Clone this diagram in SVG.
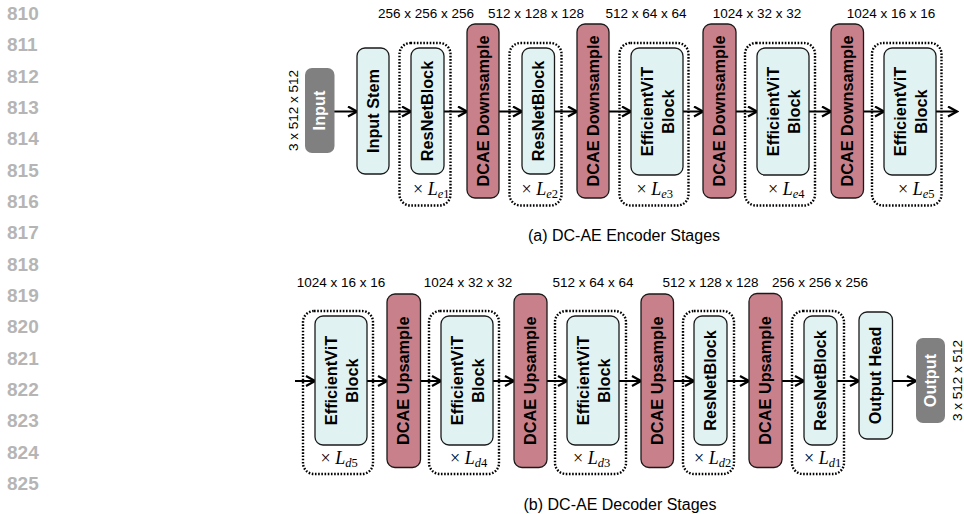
<svg xmlns="http://www.w3.org/2000/svg" width="964" height="514" viewBox="0 0 964 514">
<defs>
<marker id="ah" viewBox="0 0 12 12" refX="10.5" refY="6" markerWidth="12" markerHeight="12" markerUnits="userSpaceOnUse" orient="auto">
<path d="M1.5,1 L10.5,6 L1.5,11" fill="none" stroke="#000" stroke-width="2.2"/>
</marker>
<style>
.ln{font-family:"Liberation Sans",Arial,sans-serif;font-weight:bold;font-size:19px;fill:#b5b5b5}
.dim{font-family:"Liberation Sans",Arial,sans-serif;font-size:13.5px;fill:#000;text-anchor:middle}
.cap{font-family:"Liberation Sans",Arial,sans-serif;font-size:16px;fill:#000;text-anchor:middle}
.blk{fill:#e0f3f2;stroke:#1a1a1a;stroke-width:1.3}
.dc{fill:#c8808a;stroke:#1a1a1a;stroke-width:1.3}
.io{fill:#808080}
.dot{fill:none;stroke:#000;stroke-width:2.4;stroke-dasharray:1.6 1.6}
.bt{font-family:"Liberation Sans",Arial,sans-serif;font-weight:bold;font-size:16.3px;fill:#000;text-anchor:middle}
.wt{font-family:"Liberation Sans",Arial,sans-serif;font-weight:bold;font-size:16.3px;fill:#fff;text-anchor:middle}
.mul{font-family:"Liberation Serif","Times New Roman",serif;font-size:18px;fill:#000}
.it{font-style:italic}
.sb{font-size:12.5px}
.conn line{stroke:#000;stroke-width:2;marker-end:url(#ah)}
</style>
</defs>
<rect width="964" height="514" fill="#fff"/>
<g id="line-numbers">
<text class="ln" x="7" y="20">810</text>
<text class="ln" x="7" y="51.3">811</text>
<text class="ln" x="7" y="82.7">812</text>
<text class="ln" x="7" y="114">813</text>
<text class="ln" x="7" y="145.3">814</text>
<text class="ln" x="7" y="176.7">815</text>
<text class="ln" x="7" y="208">816</text>
<text class="ln" x="7" y="239.3">817</text>
<text class="ln" x="7" y="270.7">818</text>
<text class="ln" x="7" y="302">819</text>
<text class="ln" x="7" y="333.3">820</text>
<text class="ln" x="7" y="364.7">821</text>
<text class="ln" x="7" y="396">822</text>
<text class="ln" x="7" y="427.3">823</text>
<text class="ln" x="7" y="458.7">824</text>
<text class="ln" x="7" y="490">825</text>
</g>
<g id="labels">
<text class="dim" x="426" y="17.5">256 x 256 x 256</text>
<text class="dim" x="536" y="17.5">512 x 128 x 128</text>
<text class="dim" x="646" y="17.5">512 x 64 x 64</text>
<text class="dim" x="757" y="17.5">1024 x 32 x 32</text>
<text class="dim" x="891" y="17.5">1024 x 16 x 16</text>
<text class="dim" transform="translate(293,110.5) rotate(-90)" dy="4.5">3 x 512 x 512</text>
<text class="cap" x="624" y="241">(a) DC-AE Encoder Stages</text>
<text class="dim" x="341" y="287">1024 x 16 x 16</text>
<text class="dim" x="468" y="287">1024 x 32 x 32</text>
<text class="dim" x="593" y="287">512 x 64 x 64</text>
<text class="dim" x="710.5" y="287">512 x 128 x 128</text>
<text class="dim" x="820" y="287">256 x 256 x 256</text>
<text class="dim" transform="translate(957,380.5) rotate(-90)" dy="4.5">3 x 512 x 512</text>
<text class="cap" x="620" y="510">(b) DC-AE Decoder Stages</text>
</g>
<g id="connectors" class="conn">
<line x1="334" y1="111.5" x2="357" y2="111.5"/>
<line x1="389" y1="111.5" x2="411" y2="111.5"/>
<line x1="444" y1="111.5" x2="467" y2="111.5"/>
<line x1="499" y1="111.5" x2="522" y2="111.5"/>
<line x1="554" y1="111.5" x2="577" y2="111.5"/>
<line x1="609" y1="111.5" x2="631" y2="111.5"/>
<line x1="683" y1="111.5" x2="703" y2="111.5"/>
<line x1="736" y1="111.5" x2="757" y2="111.5"/>
<line x1="809" y1="111.5" x2="831" y2="111.5"/>
<line x1="863" y1="111.5" x2="884" y2="111.5"/>
<line x1="936" y1="111.5" x2="957" y2="111.5"/>
<line x1="295" y1="381" x2="315" y2="381"/>
<line x1="367" y1="381" x2="387" y2="381"/>
<line x1="421" y1="381" x2="441" y2="381"/>
<line x1="493" y1="381" x2="514" y2="381"/>
<line x1="547" y1="381" x2="567" y2="381"/>
<line x1="619" y1="381" x2="641" y2="381"/>
<line x1="673" y1="381" x2="694" y2="381"/>
<line x1="727" y1="381" x2="749" y2="381"/>
<line x1="782" y1="381" x2="804" y2="381"/>
<line x1="837" y1="381" x2="859" y2="381"/>
<line x1="893" y1="381" x2="916" y2="381"/>
</g>
<g id="enc-input">
<rect class="io" x="305" y="68" width="29.5" height="85" rx="7"/>
<text class="wt" transform="translate(319.7,110.5) rotate(-90)" dy="5.5">Input</text>
</g>
<g id="enc-stem">
<rect class="blk" x="357" y="48" width="32" height="126" rx="8"/>
<text class="bt" transform="translate(373,111) rotate(-90)" dy="5.5">Input Stem</text>
</g>
<g id="enc-stage1">
<rect class="dot" x="399.5" y="43" width="51" height="162.5" rx="11"/>
<rect class="blk" x="411" y="48" width="33" height="126" rx="8"/>
<text class="bt" transform="translate(427.5,111) rotate(-90)" dy="5.5">ResNetBlock</text>
<text class="mul" x="413" y="195">× <tspan class="it">L</tspan><tspan class="it sb" dy="3">e</tspan><tspan class="sb">1</tspan></text>
</g>
<g id="enc-down1">
<rect class="dc" x="467" y="24" width="32" height="174" rx="8"/>
<text class="bt" transform="translate(483,111) rotate(-90)" dy="5.5">DCAE Downsample</text>
</g>
<g id="enc-stage2">
<rect class="dot" x="509.5" y="43" width="52" height="162.5" rx="11"/>
<rect class="blk" x="522" y="48" width="32.5" height="126" rx="8"/>
<text class="bt" transform="translate(538.2,111) rotate(-90)" dy="5.5">ResNetBlock</text>
<text class="mul" x="521.5" y="195">× <tspan class="it">L</tspan><tspan class="it sb" dy="3">e</tspan><tspan class="sb">2</tspan></text>
</g>
<g id="enc-down2">
<rect class="dc" x="577" y="24" width="32" height="174" rx="8"/>
<text class="bt" transform="translate(593,111) rotate(-90)" dy="5.5">DCAE Downsample</text>
</g>
<g id="enc-stage3">
<rect class="dot" x="619.5" y="43" width="69" height="162.5" rx="11"/>
<rect class="blk" x="631" y="48" width="52" height="127" rx="8"/>
<text class="bt" transform="translate(657,111.5) rotate(-90)"><tspan x="0" dy="-4.5">EfficientViT</tspan><tspan x="0" dy="21.5">Block</tspan></text>
<text class="mul" x="636.5" y="195">× <tspan class="it">L</tspan><tspan class="it sb" dy="3">e</tspan><tspan class="sb">3</tspan></text>
</g>
<g id="enc-down3">
<rect class="dc" x="703" y="24" width="33" height="174" rx="8"/>
<text class="bt" transform="translate(719.5,111) rotate(-90)" dy="5.5">DCAE Downsample</text>
</g>
<g id="enc-stage4">
<rect class="dot" x="745" y="43" width="70" height="162.5" rx="11"/>
<rect class="blk" x="757" y="48" width="52" height="127" rx="8"/>
<text class="bt" transform="translate(783,111.5) rotate(-90)"><tspan x="0" dy="-4.5">EfficientViT</tspan><tspan x="0" dy="21.5">Block</tspan></text>
<text class="mul" x="768" y="195">× <tspan class="it">L</tspan><tspan class="it sb" dy="3">e</tspan><tspan class="sb">4</tspan></text>
</g>
<g id="enc-down4">
<rect class="dc" x="831" y="24" width="32.5" height="174" rx="8"/>
<text class="bt" transform="translate(847.2,111) rotate(-90)" dy="5.5">DCAE Downsample</text>
</g>
<g id="enc-stage5">
<rect class="dot" x="872" y="43" width="69.5" height="162.5" rx="11"/>
<rect class="blk" x="884" y="48" width="52" height="127" rx="8"/>
<text class="bt" transform="translate(910,111.5) rotate(-90)"><tspan x="0" dy="-4.5">EfficientViT</tspan><tspan x="0" dy="21.5">Block</tspan></text>
<text class="mul" x="898" y="195">× <tspan class="it">L</tspan><tspan class="it sb" dy="3">e</tspan><tspan class="sb">5</tspan></text>
</g>
<g id="dec-stage5">
<rect class="dot" x="303" y="311" width="70" height="163" rx="11"/>
<rect class="blk" x="315" y="316" width="52" height="129" rx="8"/>
<text class="bt" transform="translate(341,380.5) rotate(-90)"><tspan x="0" dy="-4.5">EfficientViT</tspan><tspan x="0" dy="21.5">Block</tspan></text>
<text class="mul" x="320.5" y="464">× <tspan class="it">L</tspan><tspan class="it sb" dy="3">d</tspan><tspan class="sb">5</tspan></text>
</g>
<g id="dec-up1">
<rect class="dc" x="387" y="294" width="33.5" height="173.5" rx="8"/>
<text class="bt" transform="translate(403.7,380.7) rotate(-90)" dy="5.5">DCAE Upsample</text>
</g>
<g id="dec-stage4">
<rect class="dot" x="429" y="311" width="70" height="163" rx="11"/>
<rect class="blk" x="441" y="316" width="52" height="129" rx="8"/>
<text class="bt" transform="translate(467,380.5) rotate(-90)"><tspan x="0" dy="-4.5">EfficientViT</tspan><tspan x="0" dy="21.5">Block</tspan></text>
<text class="mul" x="450" y="464">× <tspan class="it">L</tspan><tspan class="it sb" dy="3">d</tspan><tspan class="sb">4</tspan></text>
</g>
<g id="dec-up2">
<rect class="dc" x="514" y="294" width="33" height="173.5" rx="8"/>
<text class="bt" transform="translate(530.5,380.7) rotate(-90)" dy="5.5">DCAE Upsample</text>
</g>
<g id="dec-stage3">
<rect class="dot" x="555" y="311" width="71" height="163" rx="11"/>
<rect class="blk" x="567" y="316" width="52" height="129" rx="8"/>
<text class="bt" transform="translate(593,380.5) rotate(-90)"><tspan x="0" dy="-4.5">EfficientViT</tspan><tspan x="0" dy="21.5">Block</tspan></text>
<text class="mul" x="573" y="464">× <tspan class="it">L</tspan><tspan class="it sb" dy="3">d</tspan><tspan class="sb">3</tspan></text>
</g>
<g id="dec-up3">
<rect class="dc" x="641" y="294" width="32.5" height="173.5" rx="8"/>
<text class="bt" transform="translate(657.2,380.7) rotate(-90)" dy="5.5">DCAE Upsample</text>
</g>
<g id="dec-stage2">
<rect class="dot" x="683" y="311" width="51" height="163" rx="11"/>
<rect class="blk" x="694" y="316" width="33" height="129" rx="8"/>
<text class="bt" transform="translate(710.5,380.5) rotate(-90)" dy="5.5">ResNetBlock</text>
<text class="mul" x="694" y="464">× <tspan class="it">L</tspan><tspan class="it sb" dy="3">d</tspan><tspan class="sb">2</tspan></text>
</g>
<g id="dec-up4">
<rect class="dc" x="749" y="293.5" width="33" height="174" rx="8"/>
<text class="bt" transform="translate(765.5,380.5) rotate(-90)" dy="5.5">DCAE Upsample</text>
</g>
<g id="dec-stage1">
<rect class="dot" x="792" y="311" width="52" height="163" rx="11"/>
<rect class="blk" x="804" y="316" width="33" height="129" rx="8"/>
<text class="bt" transform="translate(820.5,380.5) rotate(-90)" dy="5.5">ResNetBlock</text>
<text class="mul" x="804" y="464">× <tspan class="it">L</tspan><tspan class="it sb" dy="3">d</tspan><tspan class="sb">1</tspan></text>
</g>
<g id="dec-head">
<rect class="blk" x="859" y="312" width="33.5" height="127" rx="8"/>
<text class="bt" transform="translate(875.7,375.5) rotate(-90)" dy="5.5">Output Head</text>
</g>
<g id="dec-output">
<rect class="io" x="916" y="338" width="29" height="85" rx="7"/>
<text class="wt" transform="translate(930.5,380.5) rotate(-90)" dy="5.5">Output</text>
</g>
</svg>
